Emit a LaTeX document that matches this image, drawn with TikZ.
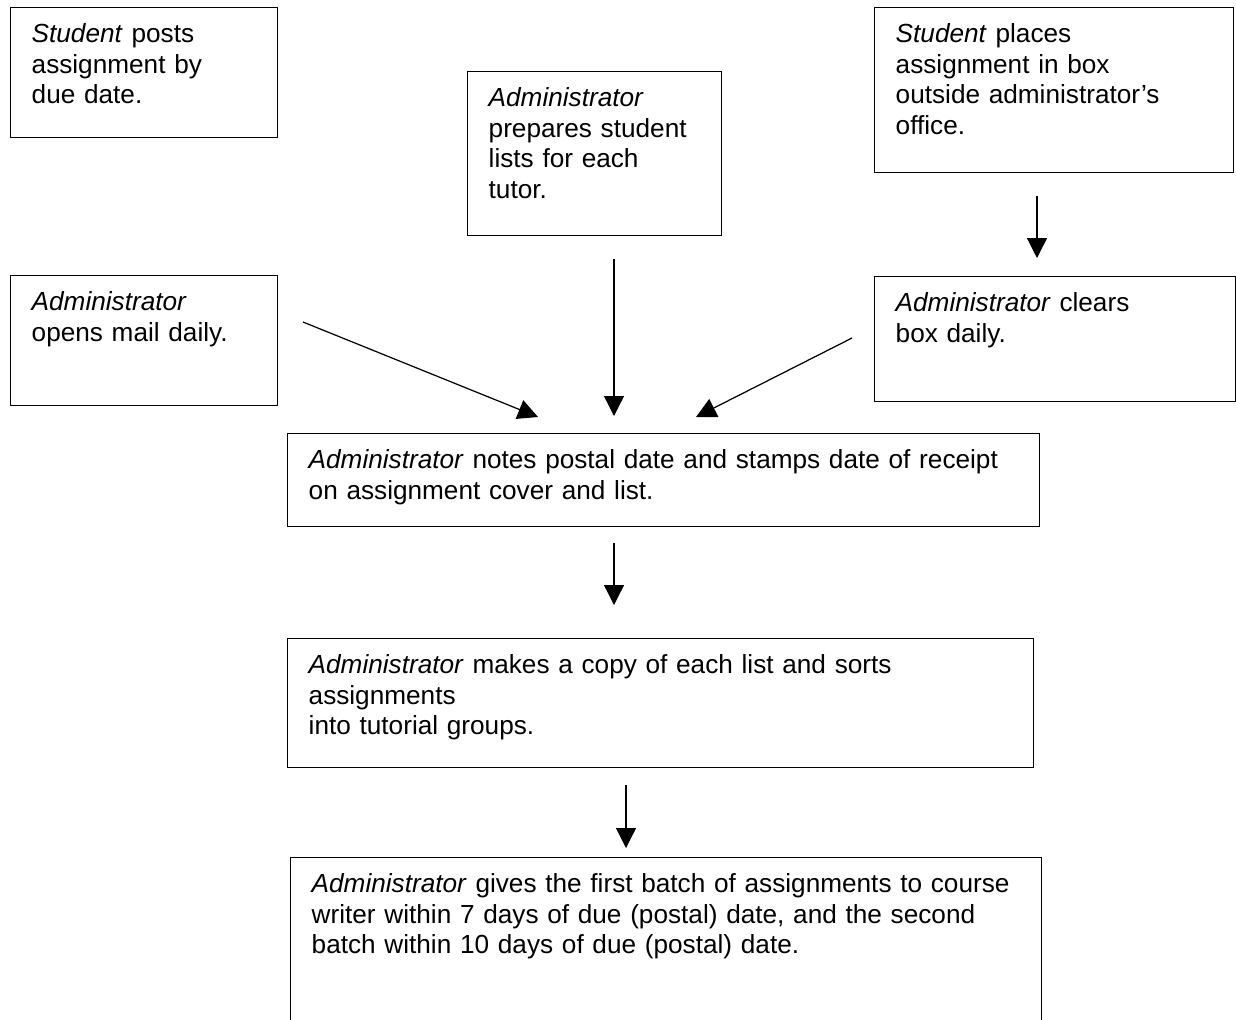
\documentclass[tikz,border=0pt]{standalone}
\usepackage{fontspec}
\setmainfont{Liberation Sans}
\usetikzlibrary{arrows.meta}
\tikzset{
  stage/.style={draw, line width=0.8pt, anchor=north west, align=left, inner xsep=0.42cm, inner ysep=0pt, text height=0.7cm, font=\fontsize{14.9}{17.4}\selectfont},
  flow/.style={-{Triangle[length=0.4cm,width=0.4cm]}, line width=0.7pt}
}
\begin{document}
\begin{tikzpicture}[x=0.02cm,y=-0.02cm]
\clip (0,0) rectangle (1236,1019);
% top row
\node[stage, text width=4.5cm, text depth=1.9cm] (posts) at (10,7) {\emph{Student} posts\\assignment by\\due date.};
\node[stage, text width=4.24cm, text depth=2.58cm] (lists) at (467,71) {\emph{Administrator}\\prepares student\\lists for each\\tutor.};
\node[stage, text width=6.34cm, text depth=2.6cm] (places) at (874,7) {\emph{Student} places\\assignment in box\\outside administrator’s\\office.};
% second row
\node[stage, text width=4.5cm, text depth=1.9cm] (opens) at (10,275) {\emph{Administrator}\\opens mail daily.};
\node[stage, text width=6.38cm, text depth=1.8cm] (clears) at (874,276) {\emph{Administrator} clears\\box daily.};
% main column
\node[stage, text width=14.2cm, text depth=1.16cm] (notes) at (287,433) {\emph{Administrator} notes postal date and stamps date of receipt\\on assignment cover and list.};
\node[stage, text width=14.08cm, text depth=1.88cm] (copies) at (287,638) {\emph{Administrator} makes a copy of each list and sorts\\assignments\\into tutorial groups.};
\node[stage, text width=14.18cm, text depth=3.3cm] (gives) at (290,857) {\emph{Administrator} gives the first batch of assignments to course\\writer within 7 days of due (postal) date, and the second\\batch within 10 days of due (postal) date.};
% arrow ends
\coordinate (mailOut) at (303,322);
\coordinate (notesInL) at (538,417);
\coordinate (listsOut) at (614,259);
\coordinate (notesInM) at (614,416);
\coordinate (clearsOut) at (852,338);
\coordinate (notesInR) at (696,417);
\coordinate (boxOut) at (1037,196);
\coordinate (clearsIn) at (1037,258);
\coordinate (notesOut) at (614,543);
\coordinate (copiesIn) at (614,605);
\coordinate (copiesOut) at (626,785);
\coordinate (givesIn) at (626,848);
\draw[flow] (mailOut) -- (notesInL);
\draw[flow] (listsOut) -- (notesInM);
\draw[flow] (clearsOut) -- (notesInR);
\draw[flow] (boxOut) -- (clearsIn);
\draw[flow] (notesOut) -- (copiesIn);
\draw[flow] (copiesOut) -- (givesIn);
\end{tikzpicture}
\end{document}
